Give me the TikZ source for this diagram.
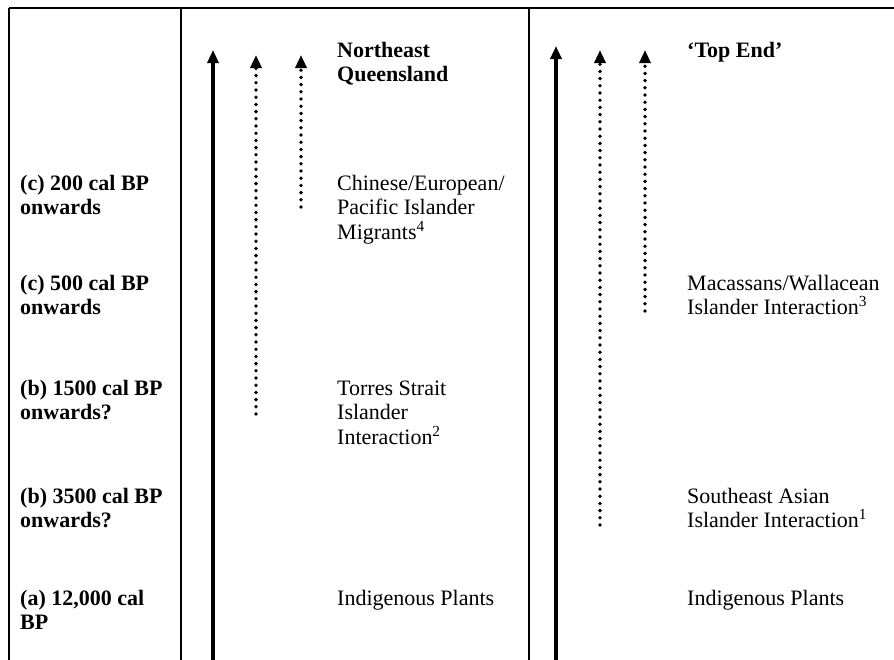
\documentclass[tikz,border=0pt]{standalone}
\usepackage{fontspec}
\setmainfont{Liberation Serif}
\usetikzlibrary{arrows.meta}
\begin{document}
\begin{tikzpicture}[x=1pt,y=-1pt,
  frame/.style={line width=1.3pt, black},
  solidarrow/.style={line width=3.5pt, -{Triangle[length=13pt,width=11pt]}},
  dotarrow/.style={line width=3.8pt, line cap=round, dash pattern=on 0pt off 7.2pt, -{Triangle[length=13pt,width=11pt]}},
  lbl/.style={anchor=base west, inner sep=0pt, font=\fontsize{22}{24.5}\selectfont},
]
\useasboundingbox (0,0) rectangle (894,659);
% frame
\draw[frame] (9,8) -- (897,8);
\draw[frame] (9,8) -- (9,662);
\draw[frame] (181,8) -- (181,662);
\draw[frame] (529,8) -- (529,662);

% arrow end points
\coordinate (nqs0) at (213,662); \coordinate (nqs1) at (213,50);
\coordinate (nqa0) at (256,414); \coordinate (nqa1) at (256,55);
\coordinate (nqb0) at (301,207); \coordinate (nqb1) at (301,55);
\coordinate (tes0) at (556,662); \coordinate (tes1) at (556,46);
\coordinate (tea0) at (600,525); \coordinate (tea1) at (600,50);
\coordinate (teb0) at (645,311); \coordinate (teb1) at (645,50);

\draw[solidarrow] (nqs0) -- (nqs1);
\draw[dotarrow] (nqa0) -- (nqa1);
\draw[dotarrow] (nqb0) -- (nqb1);
\draw[solidarrow] (tes0) -- (tes1);
\draw[dotarrow] (tea0) -- (tea1);
\draw[dotarrow] (teb0) -- (teb1);

% period labels
\node[lbl] (p1) at (20,190) {\parbox[t]{300pt}{\raggedright\bfseries (c) 200 cal BP\\onwards}};
\node[lbl] (p2) at (20,290) {\parbox[t]{300pt}{\raggedright\bfseries (c) 500 cal BP\\onwards}};
\node[lbl] (p3) at (20,395) {\parbox[t]{300pt}{\raggedright\bfseries (b) 1500 cal BP\\onwards?}};
\node[lbl] (p4) at (20,503) {\parbox[t]{300pt}{\raggedright\bfseries (b) 3500 cal BP\\onwards?}};
\node[lbl] (p5) at (20,605) {\parbox[t]{300pt}{\raggedright\bfseries (a) 12,000 cal\\BP}};

% Northeast Queensland column
\node[lbl] (nqt) at (337,57) {\parbox[t]{300pt}{\raggedright\bfseries Northeast\\Queensland}};
\node[lbl] (nq1) at (337,190) {\parbox[t]{300pt}{\raggedright Chinese/European/\\Pacific Islander\\Migrants\textsuperscript{4}}};
\node[lbl] (nq2) at (337,395) {\parbox[t]{300pt}{\raggedright Torres Strait\\Islander\\Interaction\textsuperscript{2}}};
\node[lbl] (nq3) at (337,605) {Indigenous Plants};

% Top End column
\node[lbl] (tet) at (687,57) {\bfseries ‘Top End’};
\node[lbl] (te1) at (687,290) {\parbox[t]{300pt}{\raggedright Macassans/Wallacean\\Islander Interaction\textsuperscript{3}}};
\node[lbl] (te2) at (687,503) {\parbox[t]{300pt}{\raggedright Southeast Asian\\Islander Interaction\textsuperscript{1}}};
\node[lbl] (te3) at (687,605) {Indigenous Plants};
\end{tikzpicture}
\end{document}
